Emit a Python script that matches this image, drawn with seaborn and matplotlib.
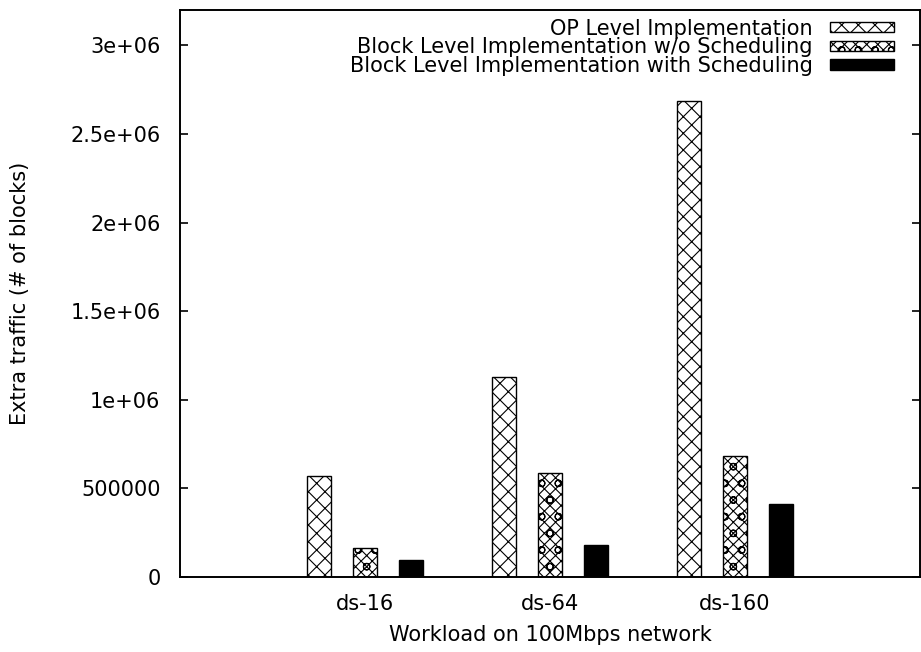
import matplotlib
matplotlib.use("Agg")
import matplotlib.pyplot as plt
import seaborn as sns
import pandas as pd

# Extra traffic per workload, in blocks
workloads = ["ds-16", "ds-64", "ds-160"]
series = [
    "OP Level Implementation",
    "Block Level Implementation w/o Scheduling",
    "Block Level Implementation with Scheduling",
]
op_level = [570000, 1126000, 2686000]
block_no_sched = [163000, 588000, 681000]
block_sched = [96000, 180000, 411000]

yticks = [0, 500000, 1000000, 1500000, 2000000, 2500000, 3000000]
ytick_labels = ["0", "500000", "1e+06", "1.5e+06", "2e+06", "2.5e+06", "3e+06"]

df = pd.DataFrame({
    "workload": workloads * 3,
    "series": [s for s in series for _ in workloads],
    "blocks": op_level + block_no_sched + block_sched,
})

sns.set_theme(style="white")
plt.rcParams["font.family"] = ["DejaVu Sans"]
plt.rcParams["text.color"] = "black"
plt.rcParams["hatch.linewidth"] = 0.8
plt.rcParams["hatch.color"] = "black"

FS = 15

fig = plt.figure(figsize=(9.21, 6.52), dpi=100)
ax = fig.add_axes([180 / 921, 75 / 652, 740 / 921, 567 / 652])

sns.barplot(
    data=df, x="workload", y="blocks", hue="series",
    order=workloads, hue_order=series,
    palette=["white", "white", "black"],
    width=0.75, gap=0.48, edgecolor="black", linewidth=1.0,
    saturation=1, legend=False, ax=ax,
)

hatches = ["xx", "xxxo", ""]
for cont, h in zip(ax.containers, hatches):
    for bar in cont:
        bar.set_hatch(h)
        bar.set_edgecolor("black")

ax.set_xlim(-1, 3)
ax.set_ylim(0, 3.2e6)
ax.set_yticks(yticks)
ax.set_yticklabels(ytick_labels)

for side in ["left", "right", "top", "bottom"]:
    ax.spines[side].set_visible(True)
    ax.spines[side].set_color("black")
    ax.spines[side].set_linewidth(1.4)

ax.tick_params(axis="y", direction="in", length=6, width=1.2, color="black",
               left=True, right=True, labelsize=FS, pad=14, labelcolor="black")
ax.tick_params(axis="x", length=0, labelsize=FS, pad=12, labelcolor="black")

ax.set_xlabel("Workload on 100Mbps network", fontsize=FS, labelpad=8, color="black")
ax.set_ylabel("Extra traffic (# of blocks)", fontsize=FS, labelpad=29, color="black")

leg = ax.legend(
    ax.containers, series,
    loc="upper right", bbox_to_anchor=(0.965, 0.985),
    frameon=False, markerfirst=False, borderaxespad=0, borderpad=0,
    handlelength=3.1, handleheight=0.4, handletextpad=0.8,
    labelspacing=-0.06, fontsize=FS, labelcolor="black",
)

fig.savefig("out.png", dpi=100)
